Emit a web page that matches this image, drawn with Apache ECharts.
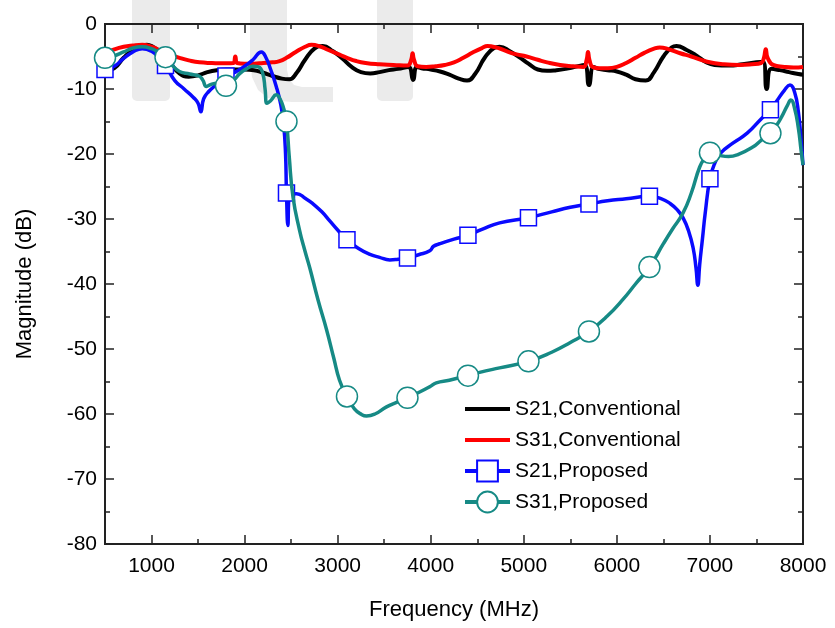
<!DOCTYPE html>
<html><head><meta charset="utf-8">
<script src="https://cdn.jsdelivr.net/npm/echarts@6/dist/echarts.min.js"></script>
<style>html,body{margin:0;padding:0;background:#fff}#c{width:835px;height:628px}</style>
</head><body><div id="c"></div>
<script>
const xMajorTicks = [1000,2000,3000,4000,5000,6000,7000,8000];
const xMinorTicks = [500,1500,2500,3500,4500,5500,6500,7500];
const seriesNames = ['S21,Conventional','S31,Conventional','S21,Proposed','S31,Proposed'];
const markerFreqs = [500,1150,1800,2450,3100,3750,4400,5050,5700,6350,7000,7650];

const s21ConvF = [500,600,700,800,900,950,1000,1100,1200,1300,1400,1500,1600,1700,1800,1900,2000,2100,2200,2300,2400,2480,2560,2650,2750,2840,2950,3050,3150,3250,3350,3450,3550,3650,3760,3810,3850,3900,4000,4100,4200,4300,4390,4480,4580,4680,4740,4850,4950,5050,5150,5250,5350,5450,5550,5650,5700,5750,5800,5900,6000,6100,6200,6310,6400,6500,6590,6640,6750,6860,6950,7050,7200,7350,7500,7570,7610,7660,7750,7850,7950,8000];
const s21ConvV = [-7.3,-6.8,-5.2,-4.0,-3.4,-3.2,-3.4,-4.4,-6.0,-7.6,-8.1,-7.9,-7.4,-7.1,-7.0,-7.0,-7.0,-7.1,-7.5,-8.0,-8.4,-8.5,-7.5,-5.5,-3.8,-3.4,-4.2,-5.3,-6.6,-7.4,-7.6,-7.4,-7.1,-6.9,-6.6,-8.6,-6.6,-6.8,-7.0,-7.3,-7.8,-8.4,-8.7,-7.6,-5.2,-3.7,-3.5,-4.2,-5.1,-6.1,-7.0,-7.2,-7.1,-6.9,-6.6,-6.3,-9.4,-6.6,-6.9,-7.1,-7.3,-7.8,-8.5,-8.7,-7.4,-5.0,-3.6,-3.4,-4.0,-4.9,-5.8,-6.3,-6.4,-6.2,-5.9,-5.8,-10.0,-6.9,-7.1,-7.4,-7.7,-7.8];

const s31ConvF = [500,600,700,800,900,1000,1100,1200,1300,1400,1515,1650,1800,1880,1900,1920,2000,2100,2200,2300,2375,2450,2550,2650,2720,2800,2900,3000,3100,3200,3300,3450,3600,3750,3790,3805,3820,3860,3950,4050,4150,4250,4350,4450,4550,4610,4700,4800,4900,5030,5150,5250,5390,5530,5640,5675,5690,5705,5740,5815,5900,6000,6100,6200,6300,6400,6460,6560,6680,6800,6970,7150,7320,7450,7550,7580,7600,7620,7680,7800,7900,8000];
const s31ConvV = [-4.5,-3.9,-3.5,-3.3,-3.2,-3.5,-4.1,-4.7,-5.2,-5.6,-5.9,-6.0,-6.05,-6.0,-5.0,-6.0,-6.1,-6.1,-6.0,-5.9,-5.7,-5.2,-4.3,-3.5,-3.2,-3.4,-4.0,-4.6,-5.2,-5.7,-6.0,-6.2,-6.3,-6.4,-5.5,-4.5,-5.5,-6.5,-6.6,-6.5,-6.3,-5.9,-5.2,-4.4,-3.7,-3.4,-3.6,-4.1,-4.6,-5.0,-5.5,-5.9,-6.3,-6.5,-6.6,-5.5,-4.3,-5.5,-6.6,-6.8,-6.8,-6.6,-6.0,-5.2,-4.4,-3.8,-3.6,-3.9,-4.5,-5.0,-5.8,-6.2,-6.3,-6.2,-6.0,-5.2,-3.9,-5.2,-6.3,-6.6,-6.7,-6.6];

const s21PropF = [500,600,700,800,900,1000,1080,1150,1250,1350,1450,1500,1530,1560,1620,1700,1800,1900,2000,2090,2180,2230,2280,2340,2390,2420,2440,2450,2465,2480,2560,2650,2730,2830,2915,3000,3100,3220,3340,3450,3560,3650,3750,3870,3990,4030,4100,4250,4400,4550,4740,5050,5300,5500,5700,5900,6100,6350,6480,6570,6650,6710,6770,6820,6850,6870,6890,6920,6950,7000,7050,7120,7250,7400,7550,7650,7720,7800,7860,7910,7950,7980,8000];
const s21PropV = [-7.0,-6.5,-5.3,-4.3,-3.8,-4.2,-5.2,-6.4,-8.7,-10.0,-11.3,-12.2,-13.5,-11.5,-10.3,-9.3,-8.0,-7.4,-6.5,-5.5,-4.3,-5.2,-7.0,-9.6,-12.5,-15.5,-20.0,-26.0,-31.0,-26.3,-26.1,-26.8,-27.6,-28.9,-30.3,-31.7,-33.2,-34.5,-35.4,-35.9,-36.3,-36.2,-36.0,-35.5,-34.9,-34.2,-33.8,-33.1,-32.5,-31.6,-30.6,-29.8,-28.9,-28.2,-27.7,-27.2,-26.9,-26.5,-26.9,-27.6,-28.6,-29.8,-31.8,-34.5,-37.5,-40.2,-37.0,-33.0,-29.0,-23.8,-21.5,-19.8,-18.3,-16.8,-14.6,-13.2,-11.8,-10.2,-9.4,-10.5,-13.5,-18.0,-21.7];

const s31PropF = [500,600,700,800,900,1000,1080,1150,1220,1300,1410,1510,1550,1590,1640,1700,1800,1880,1950,2020,2090,2150,2195,2220,2240,2280,2340,2380,2420,2450,2480,2520,2590,2650,2700,2790,2880,2960,3020,3100,3180,3260,3310,3400,3525,3650,3750,3870,3990,4060,4200,4400,4525,4740,5050,5300,5500,5700,5900,6070,6200,6350,6500,6600,6710,6800,6890,6950,7000,7100,7200,7300,7465,7550,7650,7720,7770,7830,7870,7910,7950,7980,8000];
const s31PropV = [-5.2,-4.9,-4.3,-3.7,-3.5,-3.8,-4.4,-5.1,-6.3,-7.3,-7.7,-8.0,-8.6,-9.6,-9.3,-9.1,-9.5,-8.7,-7.6,-6.9,-6.5,-6.6,-7.6,-10.0,-12.2,-11.8,-10.9,-11.5,-13.0,-15.0,-20.5,-26.6,-31.7,-35.0,-37.5,-42.5,-47.0,-51.5,-54.8,-57.3,-59.2,-60.1,-60.3,-60.0,-58.9,-58.1,-57.5,-56.7,-55.8,-55.2,-54.8,-54.1,-53.6,-52.9,-51.9,-50.5,-49.0,-47.3,-44.9,-42.3,-40.0,-37.4,-33.8,-31.5,-29.1,-26.0,-22.0,-20.5,-19.8,-20.2,-20.4,-20.1,-18.9,-17.9,-16.8,-15.5,-14.3,-12.6,-11.7,-13.0,-16.0,-19.5,-21.7];

const FONT = 'Liberation Sans, Arial, sans-serif';
const BLUE = '#0a0aff';
const TEAL = '#168a85';
const LINE_ICON = 'path://M0,0 M45,26 M0,11 L45,11 L45,15 L0,15 Z';

function pairs(F, V, withMarkers) {
  return F.map((f, i) => {
    if (!withMarkers) return [f, V[i]];
    return markerFreqs.indexOf(f) >= 0 ? { value: [f, V[i]] } : { value: [f, V[i]], symbol: 'none' };
  });
}

const chart = echarts.init(document.getElementById('c'), null, { renderer: 'canvas' });

const axisLineStyle = { color: '#222', width: 2 };
const wm = '#ebebeb';

const xBase = {
  type: 'value', min: 500, max: 8000, gridIndex: 0,
  splitLine: { show: false },
  axisLine: { show: true, onZero: false, lineStyle: axisLineStyle }
};
const yBase = {
  type: 'value', min: -80, max: 0, interval: 10,
  splitLine: { show: false },
  axisLine: { show: true, onZero: false, lineStyle: axisLineStyle },
  axisTick: { show: true, inside: true, length: 9, lineStyle: { color: '#222', width: 1.5 } },
  minorTick: { show: true, splitNumber: 2, length: 5, lineStyle: { color: '#222', width: 1.5 } }
};

chart.setOption({
  animation: false,
  backgroundColor: '#fff',
  graphic: [
    { type: 'rect', z: -10, silent: true, shape: { x: 132, y: 0, width: 38, height: 101, r: [0, 0, 5, 5] }, style: { fill: wm } },
    { type: 'rect', z: -10, silent: true, shape: { x: 377, y: 0, width: 36, height: 101, r: [0, 0, 5, 5] }, style: { fill: wm } },
    { type: 'polygon', z: -10, silent: true, shape: { points: [[250,0],[250,62],[252,77],[258,90],[268,98],[280,101],[292,102],[333,102],[333,87],[302,87],[294,85],[289,79],[287,70],[287,0]] }, style: { fill: wm } }
  ],
  grid: { left: 105, right: 32, top: 24, bottom: 84 },
  xAxis: [
    Object.assign({}, xBase, {
      position: 'bottom',
      name: 'Frequency (MHz)', nameLocation: 'middle', nameGap: 55,
      nameTextStyle: { fontFamily: FONT, fontSize: 22, color: '#000' },
      axisTick: { show: true, inside: true, length: 9, customValues: xMajorTicks, lineStyle: { color: '#222', width: 1.5 } },
      axisLabel: { show: true, customValues: xMajorTicks, margin: 12, fontFamily: FONT, fontSize: 21, color: '#000',
        formatter: v => String(v) }
    }),
    Object.assign({}, xBase, {
      position: 'bottom',
      axisTick: { show: true, inside: true, length: 5, customValues: xMinorTicks, lineStyle: { color: '#222', width: 1.5 } },
      axisLabel: { show: false }
    }),
    Object.assign({}, xBase, {
      position: 'top',
      axisTick: { show: true, inside: true, length: 9, customValues: xMajorTicks, lineStyle: { color: '#222', width: 1.5 } },
      axisLabel: { show: false }
    }),
    Object.assign({}, xBase, {
      position: 'top',
      axisTick: { show: true, inside: true, length: 5, customValues: xMinorTicks, lineStyle: { color: '#222', width: 1.5 } },
      axisLabel: { show: false }
    })
  ],
  yAxis: [
    Object.assign({}, yBase, {
      position: 'left',
      name: 'Magnitude (dB)', nameLocation: 'middle', nameGap: 69,
      nameTextStyle: { fontFamily: FONT, fontSize: 22, color: '#000' },
      axisLabel: { margin: 8, fontFamily: FONT, fontSize: 21, color: '#000', formatter: v => String(v) }
    }),
    Object.assign({}, yBase, {
      position: 'right',
      axisLabel: { show: false }
    })
  ],
  legend: {
    orient: 'vertical', left: 458, top: 391, padding: 5,
    itemWidth: 45, itemHeight: 26, itemGap: 5,
    lineStyle: { width: 4 },
    textStyle: { fontFamily: FONT, fontSize: 21, color: '#000', lineHeight: 26, height: 26 },
    data: [
      { name: seriesNames[0], icon: LINE_ICON },
      { name: seriesNames[1], icon: LINE_ICON },
      { name: seriesNames[2] },
      { name: seriesNames[3] }
    ]
  },
  series: [
    { name: seriesNames[0], type: 'line', xAxisIndex: 0, yAxisIndex: 0, data: pairs(s21ConvF, s21ConvV, false),
      symbol: 'none', smooth: 0.5, color: '#000',
      itemStyle: { color: '#000' },
      lineStyle: { color: '#000', width: 4 }, z: 2 },
    { name: seriesNames[1], type: 'line', xAxisIndex: 0, yAxisIndex: 0, data: pairs(s31ConvF, s31ConvV, false),
      symbol: 'none', smooth: 0.5, color: '#ff0000',
      itemStyle: { color: '#ff0000' },
      lineStyle: { color: '#ff0000', width: 4 }, z: 3 },
    { name: seriesNames[2], type: 'line', xAxisIndex: 0, yAxisIndex: 0, data: pairs(s21PropF, s21PropV, true),
      symbol: 'rect', symbolSize: 16, showSymbol: true, showAllSymbol: true, smooth: 0.5,
      color: BLUE, lineStyle: { color: BLUE, width: 3.5 },
      itemStyle: { color: '#fff', borderColor: BLUE, borderWidth: 1.5 }, z: 4 },
    { name: seriesNames[3], type: 'line', xAxisIndex: 0, yAxisIndex: 0, data: pairs(s31PropF, s31PropV, true),
      symbol: 'circle', symbolSize: 21, showSymbol: true, showAllSymbol: true, smooth: 0.5,
      color: TEAL, lineStyle: { color: TEAL, width: 3.5 },
      itemStyle: { color: '#fff', borderColor: TEAL, borderWidth: 1.5 }, z: 5 }
  ]
});
</script>
</body></html>
